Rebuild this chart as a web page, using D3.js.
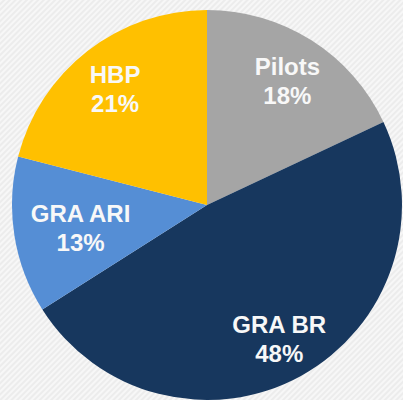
<!DOCTYPE html>
<html>
<head>
<meta charset="utf-8">
<script src="https://cdn.jsdelivr.net/npm/d3@7"></script>
<style>
  html, body { margin: 0; padding: 0; background: #eeeeee; }
  svg { display: block; }
</style>
</head>
<body>
<div id="chart"></div>
<script>
// slice data, clockwise from 12 o'clock
var categories = ["Pilots", "GRA BR", "GRA ARI", "HBP"];
var shares = [18, 48, 13, 21];
var colors = ["#a5a5a5", "#17375e", "#558ed5", "#ffc000"];

var width = 403,
    height = 400,
    cx = 207, cy = 205,
    radius = 195;

var svg = d3.select("#chart")
  .append("svg")
    .attr("width", width)
    .attr("height", height);

// textured light background
var defs = svg.append("defs");
var pat = defs.append("pattern")
    .attr("id", "bgtex")
    .attr("width", 4)
    .attr("height", 4)
    .attr("patternUnits", "userSpaceOnUse")
    .attr("patternTransform", "rotate(45)");
pat.append("rect").attr("width", 4).attr("height", 4).attr("fill", "#ececec");
pat.append("rect").attr("width", 2).attr("height", 4).attr("fill", "#f7f7f7");

svg.append("rect")
    .attr("width", width)
    .attr("height", height)
    .attr("fill", "url(#bgtex)");

var data = categories.map(function(c, i) {
  return {name: c, value: shares[i], color: colors[i]};
});

var pie = d3.pie()
    .sort(null)
    .value(function(d) { return d.value; });

var arc = d3.arc()
    .innerRadius(0)
    .outerRadius(radius);

var g = svg.append("g")
    .attr("transform", "translate(" + cx + "," + cy + ")");

g.selectAll("path")
  .data(pie(data))
  .enter()
  .append("path")
    .attr("d", arc)
    .attr("fill", function(d) { return d.data.color; });

// small slices get their label pulled in a bit
function labelR(d) { return d.data.value < 15 ? 128 : 150; }

var labels = g.selectAll("text.lbl")
  .data(pie(data))
  .enter()
  .append("text")
    .attr("class", "lbl")
    .attr("transform", function(d) {
      var r = labelR(d);
      var c = d3.arc().innerRadius(r).outerRadius(r).centroid(d);
      return "translate(" + c[0] + "," + c[1] + ")";
    })
    .attr("text-anchor", "middle")
    .attr("font-family", "Liberation Sans, Arial, sans-serif")
    .attr("font-weight", "bold")
    .attr("font-size", "24px")
    .attr("fill", "#f8f8f8");

labels.append("tspan")
    .attr("x", 0)
    .attr("y", -3)
    .text(function(d) { return d.data.name; });

labels.append("tspan")
    .attr("x", 0)
    .attr("y", 26)
    .text(function(d) { return d.data.value + "%"; });
</script>
</body>
</html>
